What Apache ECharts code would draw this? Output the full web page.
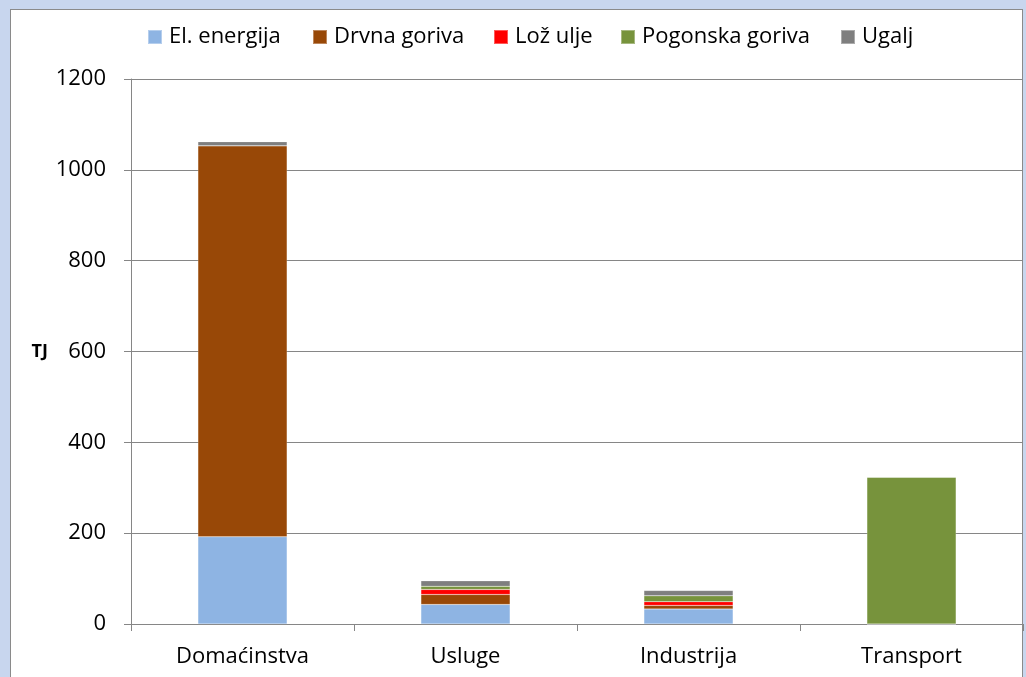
<!DOCTYPE html>
<html>
<head>
<meta charset="utf-8">
<script src="https://cdn.jsdelivr.net/npm/echarts@6/dist/echarts.min.js"></script>
<style>
  html, body { margin: 0; padding: 0; width: 1026px; height: 677px; overflow: hidden; background: #c8d6ee; }
  #panel { position: absolute; left: 10px; top: 9px; width: 1013px; height: 700px; background: #fff; border: 1px solid #8a8a8a; box-sizing: border-box; }
  #main { position: absolute; left: 0; top: 0; width: 1026px; height: 677px; }
</style>
</head>
<body>
<div id="panel"></div>
<div id="main"></div>
<script>
// kategorije i potrošnja po energentu (TJ)
var kategorije = ['Domaćinstva', 'Usluge', 'Industrija', 'Transport'];
var elEnergija = [192, 43, 33, 0];
var drvnaGoriva = [861, 22, 8, 0];
var lozUlje = [0, 11, 8, 0];
var pogonskaGoriva = [0, 7, 13, 323];
var ugalj = [9, 12, 12, 0];

var nazivi = ['El. energija', 'Drvna goriva', 'Lož ulje', 'Pogonska goriva', 'Ugalj'];
var boje = ['#8eb4e3', '#984807', '#ff0000', '#77933c', '#7f7f7f'];
var font = '"Open Sans", sans-serif';
// položaj svake stavke legende (lijevi rub kvadratića)
var legendaX = [147, 312, 493, 620, 840];

function serija(ime, podaci) {
  return {
    name: ime,
    type: 'bar',
    stack: 'ukupno',
    barWidth: '40%',
    data: podaci,
    itemStyle: { borderColor: 'rgba(255,255,255,0.35)', borderWidth: 0.5 }
  };
}

var myChart = echarts.init(document.getElementById('main'));
myChart.setOption({
  animation: false,
  color: boje,
  textStyle: { fontFamily: font },
  legend: nazivi.map(function (n, i) {
    return {
      data: [n],
      left: legendaX[i],
      top: 26,
      padding: 0,
      itemWidth: 14,
      itemHeight: 14,
      icon: 'rect',
      textStyle: { fontSize: 22, color: '#000', fontFamily: font, padding: [0, 0, 0, 2] }
    };
  }),
  grid: { left: 131, right: 3, top: 79, bottom: 53 },
  xAxis: {
    type: 'category',
    data: kategorije,
    axisLine: { lineStyle: { color: '#868686', width: 1 } },
    axisTick: { show: true, length: 7, lineStyle: { color: '#868686' } },
    axisLabel: { fontSize: 22, color: '#000', margin: 22, fontFamily: font }
  },
  yAxis: {
    type: 'value',
    min: 0,
    max: 1200,
    interval: 200,
    name: 'TJ',
    nameLocation: 'middle',
    nameRotate: 0,
    nameGap: 83,
    nameTextStyle: { fontSize: 18, fontWeight: 'bold', color: '#000', fontFamily: font },
    axisLine: { show: true, lineStyle: { color: '#868686' } },
    axisTick: { show: true, length: 7, lineStyle: { color: '#868686' } },
    axisLabel: { fontSize: 22, color: '#000', margin: 25, fontFamily: font, formatter: function (v) { return String(v); } },
    splitLine: { lineStyle: { color: '#868686', width: 1 } }
  },
  series: [
    serija(nazivi[0], elEnergija),
    serija(nazivi[1], drvnaGoriva),
    serija(nazivi[2], lozUlje),
    serija(nazivi[3], pogonskaGoriva),
    serija(nazivi[4], ugalj)
  ]
});
</script>
</body>
</html>
